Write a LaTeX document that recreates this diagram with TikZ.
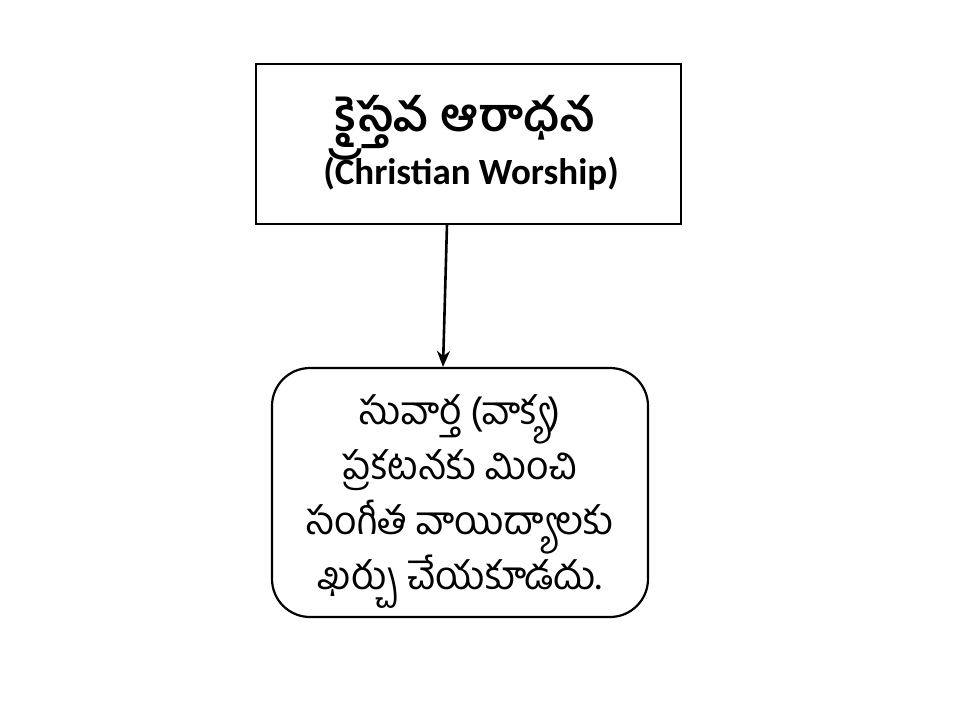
\documentclass[tikz,border=0pt]{standalone}
\usepackage{fontspec}
\setmainfont{Carlito}
\newfontfamily\telugu[Script=Telugu]{Hind Guntur}
\usetikzlibrary{arrows.meta}
\tikzset{
  topbox/.style={draw, line width=2.2pt, minimum width=425pt, minimum height=160pt, inner sep=0pt},
  bottombox/.style={draw, line width=2.2pt, rounded corners=38pt, minimum width=376pt, minimum height=249pt, inner sep=0pt},
  conn/.style={line width=2.6pt, -{Stealth[length=16pt,width=13pt]}}
}
\begin{document}
\begin{tikzpicture}[x=1pt,y=-1pt]
\useasboundingbox (0,0) rectangle (960,720);
\node[topbox] (top) at (468.5,144) {};
\node[font=\telugu\fontsize{46}{50}\selectfont\bfseries, inner sep=0pt, anchor=base] (tt) at (465,131) {క్రైస్తవ ఆరాధన};
\node[font=\fontsize{37}{44}\selectfont\bfseries, inner sep=0pt, anchor=base] (te) at (471,184) {(Christian Worship)};
\node[bottombox] (bot) at (460,492.5) {};
\node[font=\telugu\fontsize{39}{55}\selectfont, align=center, inner sep=0pt] (bt) at (460,502) {సువార్త (వాక్య)\\ప్రకటనకు మించి\\సంగీత వాయిద్యాలకు\\ఖర్చు చేయకూడదు.};
\coordinate (a1) at (447,224);
\draw[conn] (a1) -- (bot.north -| 443,0);
\end{tikzpicture}
\end{document}
